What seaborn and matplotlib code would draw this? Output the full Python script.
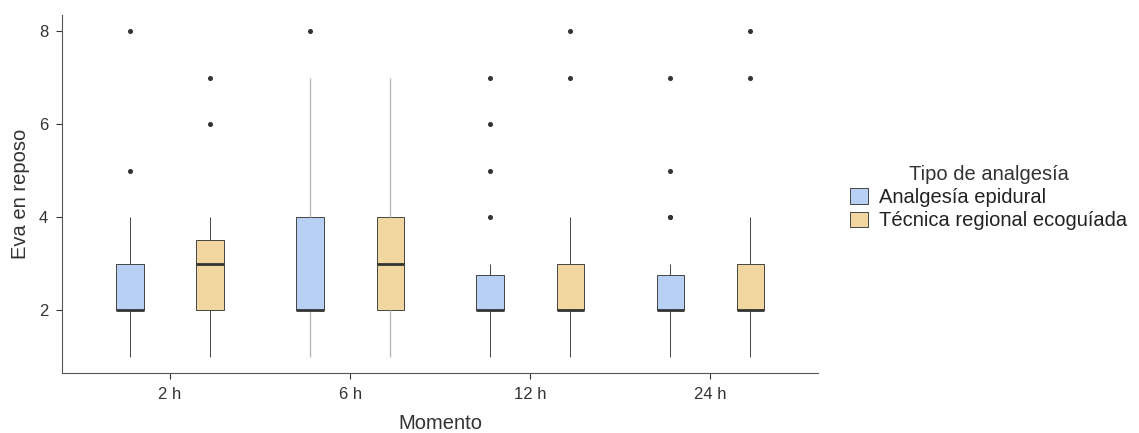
import pandas as pd
import matplotlib
matplotlib.use("Agg")
import matplotlib.pyplot as plt
import seaborn as sns

momentos = ["2 h", "6 h", "12 h", "24 h"]
grupos = ["Analgesía epidural", "Técnica regional ecoguíada"]

epi_2h = [1, 2, 2, 2, 2, 2, 2, 2, 2, 2, 2, 3, 3, 3, 3, 3, 4, 4, 5, 8]
tec_2h = [1, 2, 2, 2, 2, 2, 3, 3, 3, 3, 3, 3, 3, 3, 4, 4, 4, 6, 7]
epi_6h = [1, 2, 2, 2, 2, 2, 2, 2, 2, 2, 2, 3, 3, 3, 4, 4, 4, 5, 7, 8]
tec_6h = [1, 2, 2, 2, 2, 2, 3, 3, 3, 3, 3, 3, 3, 3, 4, 4, 4, 4, 6, 7]
epi_12h = [1, 2, 2, 2, 2, 2, 2, 2, 2, 2, 2, 2, 2, 3, 4, 5, 6, 7]
tec_12h = [1, 2, 2, 2, 2, 2, 2, 2, 2, 2, 2, 3, 3, 3, 3, 3, 4, 4, 7, 8]
epi_24h = [1, 2, 2, 2, 2, 2, 2, 2, 2, 2, 2, 2, 2, 3, 4, 4, 5, 7]
tec_24h = [1, 2, 2, 2, 2, 2, 2, 2, 2, 2, 2, 3, 3, 3, 3, 3, 4, 4, 7, 8]

series = {
    ("2 h", grupos[0]): epi_2h, ("2 h", grupos[1]): tec_2h,
    ("6 h", grupos[0]): epi_6h, ("6 h", grupos[1]): tec_6h,
    ("12 h", grupos[0]): epi_12h, ("12 h", grupos[1]): tec_12h,
    ("24 h", grupos[0]): epi_24h, ("24 h", grupos[1]): tec_24h,
}
rows = []
for (m, g), vals in series.items():
    for v in vals:
        rows.append({"Momento": m, "Tipo": g, "Eva": v})
df = pd.DataFrame(rows)

sns.set_style("white")
plt.rcParams["font.family"] = ["Liberation Sans", "DejaVu Sans"]

colores = {grupos[0]: "#B9D0F5", grupos[1]: "#F2D6A0"}

fig = plt.figure(figsize=(11.39, 4.33), dpi=100)
ax = fig.add_axes([0.0544, 0.1386, 0.664, 0.827])

comun = dict(x="Momento", y="Eva", hue="Tipo", order=momentos, hue_order=grupos,
             palette=colores, saturation=1, width=0.89, gap=0.66,
             linecolor="#444444", linewidth=0.7, showcaps=False,
             medianprops=dict(color="#333333", linewidth=2),
             flierprops=dict(marker="o", markersize=2.6, markerfacecolor="#333333",
                             markeredgecolor="#333333"),
             ax=ax)

# 6 h whiskers are drawn in light gray in the original
sns.boxplot(data=df[df["Momento"] != "6 h"], **comun)
sns.boxplot(data=df[df["Momento"] == "6 h"], legend=False,
            whiskerprops=dict(color="#BBBBBB", linewidth=1.0), **comun)

ax.set_xlim(-0.6, 3.6)
ax.set_ylim(0.65, 8.35)
ax.set_yticks([2, 4, 6, 8])
ax.set_xlabel("Momento", fontsize=14.5, color="#333333", labelpad=9)
ax.set_ylabel("Eva en reposo", fontsize=14.5, color="#333333", labelpad=6)
ax.tick_params(axis="both", labelsize=12, colors="#333333", length=4, width=0.8,
               direction="out", bottom=True, left=True, pad=6)
for s in ["top", "right"]:
    ax.spines[s].set_visible(False)
for s in ["left", "bottom"]:
    ax.spines[s].set_color("#555555")
    ax.spines[s].set_linewidth(0.8)

leg = ax.legend(title="Tipo de analgesía", loc="center left",
                bbox_to_anchor=(1.01, 0.49), frameon=False, fontsize=14.5,
                title_fontsize=14.5, handlelength=0.9, handleheight=0.8,
                handletextpad=0.55, labelspacing=0.22, borderpad=0.7)
leg.get_title().set_color("#333333")
for t in leg.get_texts():
    t.set_color("#222222")

fig.savefig("out.png", dpi=100)
